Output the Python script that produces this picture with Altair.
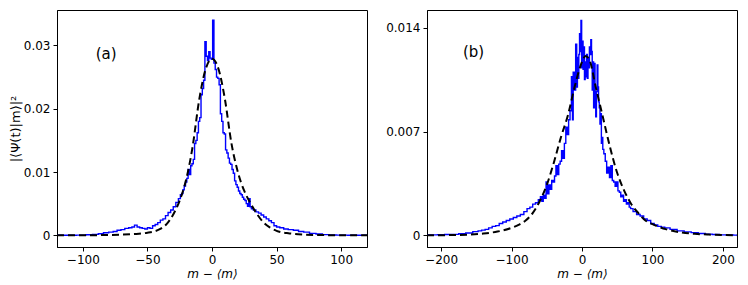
import altair as alt
import pandas as pd

# ---------------- Panel (a) ----------------
a_blue_m = [-120, -110, -100, -95, -90, -86, -82, -78, -75, -72,
            -69, -66, -63, -61, -59, -57, -55, -53, -51, -49,
            -47, -45, -43, -41, -39, -37, -35, -33, -31, -29,
            -27, -25, -24, -23, -22, -21, -20, -19, -18, -17,
            -16, -15, -14, -13, -12, -11, -10, -9, -8, -7,
            -6, -5, -4, -3, -2, -1, 0, 1, 2, 3,
            4, 5, 6, 7, 8, 9, 10, 11, 12, 13,
            14, 15, 16, 17, 18, 19, 20, 21, 22, 23,
            24, 25, 26, 27, 28, 29, 30, 31, 33, 35,
            37, 39, 41, 43, 45, 47, 49, 51, 54, 57,
            61, 65, 69, 73, 78, 83, 88, 93, 100, 110,
            120]
a_blue_p = [0, 0, 0.00003, 0.00008, 0.00015, 0.00025, 0.0004, 0.0005, 0.0006, 0.0008,
            0.0009, 0.0011, 0.0012, 0.0013, 0.0016, 0.0013, 0.0012, 0.0011, 0.0010, 0.0012,
            0.0011, 0.0015, 0.0017, 0.0020, 0.0024, 0.0026, 0.0031, 0.0036, 0.0040, 0.0045,
            0.0052, 0.0058, 0.0064, 0.0066, 0.0072, 0.0078, 0.0084, 0.0090, 0.0104, 0.0096,
            0.0110, 0.0113, 0.0120, 0.0145, 0.0150, 0.0162, 0.0180, 0.0186, 0.0222, 0.0232,
            0.0245, 0.0306, 0.0283, 0.0276, 0.0290, 0.0280, 0.0278, 0.0340, 0.0272, 0.0262,
            0.0250, 0.0248, 0.0238, 0.0192, 0.0180, 0.0162, 0.0160, 0.0135, 0.0130, 0.0122,
            0.0114, 0.0112, 0.0104, 0.0098, 0.0086, 0.0080, 0.0076, 0.0070, 0.0066, 0.0064,
            0.0060, 0.0057, 0.0055, 0.0050, 0.0046, 0.0058, 0.0045, 0.0042, 0.0040, 0.0037,
            0.0035, 0.0032, 0.0029, 0.0026, 0.0023, 0.0020, 0.0015, 0.0013, 0.0012, 0.0010,
            0.0009, 0.0008, 0.0006, 0.0005, 0.0003, 0.0002, 0.0001, 0.00005, 0.00002, 0,
            0]

a_fit_m = [-120, -100, -90, -80, -70, -60, -50, -45, -40, -35,
           -30, -25, -20, -15, -10, -5, 0, 5, 10, 15,
           20, 25, 30, 35, 40, 45, 50, 60, 70, 80,
           90, 100, 120]
a_fit_p = [0, 0.00001, 0.00002, 0.00005, 0.0001, 0.0002, 0.0004, 0.0006, 0.0010, 0.0018,
           0.0033, 0.0055, 0.0088, 0.0140, 0.0213, 0.0262, 0.0279, 0.0263, 0.0215, 0.0146,
           0.0100, 0.0070, 0.0050, 0.0033, 0.0020, 0.0012, 0.0007, 0.0003, 0.00012, 0.00005,
           0.00002, 0.00001, 0]

# ---------------- Panel (b) ----------------
b_blue_m = [-220, -210, -200, -190, -180, -170, -160, -150, -145, -140,
            -135, -130, -125, -120, -115, -110, -105, -100, -95, -90,
            -85, -80, -76, -72, -68, -64, -60, -58, -56, -54,
            -52, -50, -48, -46, -44, -42, -40, -38, -36, -34,
            -32, -30, -28, -26, -24, -22, -20, -18, -16, -14,
            -13, -12, -10, -8, -7, -6, -5, -4, -3, -2,
            -1, 0, 1, 2, 3, 4, 5, 6, 7, 8,
            9, 10, 11, 12, 13, 14, 15, 16, 17, 18,
            19, 20, 21, 22, 23, 24, 25, 26, 27, 28,
            29, 30, 32, 34, 36, 38, 40, 42, 44, 46,
            48, 50, 52, 54, 56, 58, 60, 62, 64, 66,
            68, 70, 75, 80, 85, 90, 95, 100, 105, 110,
            115, 120, 130, 140, 150, 160, 170, 180, 190, 200,
            210, 220]
b_blue_p = [0.00002, 0.00003, 0.00004, 0.00005, 0.00006, 0.0001, 0.00015, 0.00025, 0.0003, 0.00035,
            0.0004, 0.0005, 0.0006, 0.00065, 0.0008, 0.0009, 0.0010, 0.0011, 0.0012, 0.0013,
            0.0014, 0.0016, 0.0018, 0.0019, 0.0021, 0.0022, 0.0024, 0.0026, 0.0023, 0.0027,
            0.0025, 0.0036, 0.0028, 0.0034, 0.0031, 0.0037, 0.0036, 0.0040, 0.0047, 0.0041,
            0.0048, 0.0050, 0.0057, 0.0052, 0.0062, 0.0073, 0.0068, 0.0078, 0.0084, 0.0107,
            0.0078, 0.0110, 0.0098, 0.0129, 0.0100, 0.0120, 0.0106, 0.0122, 0.0136, 0.0124,
            0.0145, 0.0113, 0.0131, 0.0112, 0.0127, 0.0105, 0.0117, 0.0107, 0.0122, 0.0106,
            0.0120, 0.0113, 0.0127, 0.0122, 0.0132, 0.0124, 0.0098, 0.0117, 0.0086, 0.0116,
            0.0092, 0.0080, 0.0097, 0.0115, 0.0100, 0.0090, 0.0086, 0.0075, 0.0082, 0.0062,
            0.0066, 0.0058, 0.0055, 0.0050, 0.0042, 0.0046, 0.0039, 0.0047, 0.0037, 0.0036,
            0.0033, 0.0036, 0.0030, 0.0029, 0.0026, 0.0027, 0.0023, 0.0024, 0.0021, 0.0022,
            0.0019, 0.0018, 0.0016, 0.0014, 0.0013, 0.0011, 0.0010, 0.0008, 0.0007, 0.0006,
            0.00055, 0.0005, 0.0004, 0.0003, 0.00023, 0.00018, 0.00012, 0.00008, 0.00005, 0.00003,
            0.00002, 0.00001]

b_fit_m = [-220, -180, -160, -140, -120, -100, -90, -80, -70, -60,
           -50, -40, -30, -20, -10, 0, 5, 10, 20, 30,
           40, 50, 60, 70, 80, 90, 100, 110, 120, 140,
           160, 180, 200, 220]
b_fit_p = [0, 0.00002, 0.00005, 0.00012, 0.00025, 0.0005, 0.0007, 0.0010, 0.0015, 0.0023,
           0.0034, 0.0049, 0.0066, 0.0081, 0.0101, 0.0117, 0.0121, 0.0119, 0.0099, 0.0079,
           0.0059, 0.0042, 0.0030, 0.0021, 0.0015, 0.0010, 0.00075, 0.00055, 0.0004, 0.0002,
           0.0001, 0.00005, 0.00002, 0]

a_xticks = [-100, -50, 0, 50, 100]
a_yticks = [0, 0.01, 0.02, 0.03]
b_xticks = [-200, -100, 0, 100, 200]
b_yticks = [0, 0.007, 0.014]

FONT = "DejaVu Sans"


def panel(blue_m, blue_p, fit_m, fit_p, xdom, ydom, xticks, yticks, ndec,
          label, lab_x, lab_y, ytitle):
    blue = pd.DataFrame({"m": blue_m, "p": blue_p})
    fit = pd.DataFrame({"m": fit_m, "p": fit_p})
    xs = alt.Scale(domain=xdom, nice=False, zero=False)
    ys = alt.Scale(domain=ydom, nice=False, zero=False)
    xax = alt.Axis(values=xticks, title="m − ⟨m⟩", grid=False, tickSize=4,
                   labelPadding=3, titlePadding=3, titleFontStyle="italic",
                   titleFontWeight="normal")
    yax_kwargs = dict(values=yticks, grid=False, tickSize=4, labelPadding=3,
                      labelExpr=f"datum.value == 0 ? '0' : format(datum.value, '.{ndec}f')",
                      titleFontWeight="normal")
    if ytitle:
        yax = alt.Axis(title=ytitle, titlePadding=1, titleFontSize=13, **yax_kwargs)
    else:
        yax = alt.Axis(title=None, **yax_kwargs)

    l1 = alt.Chart(blue).mark_line(color="#0000ff", strokeWidth=1.4,
                                   interpolate="step", clip=True).encode(
        x=alt.X("m:Q", scale=xs, axis=xax),
        y=alt.Y("p:Q", scale=ys, axis=yax),
    )
    l2 = alt.Chart(fit).mark_line(color="black", strokeWidth=2, strokeDash=[7, 4],
                                  interpolate="monotone", clip=True).encode(
        x=alt.X("m:Q", scale=xs),
        y=alt.Y("p:Q", scale=ys),
    )
    txt = alt.Chart().mark_text(text=label, font=FONT, fontSize=15, color="black",
                                align="center", baseline="middle").encode(
        x=alt.datum(lab_x, scale=xs), y=alt.datum(lab_y, scale=ys)
    )
    return alt.layer(l1, l2, txt).properties(width=310, height=237)


pa = panel(a_blue_m, a_blue_p, a_fit_m, a_fit_p, [-120, 120], [-0.00185, 0.0356],
           a_xticks, a_yticks, 2, "(a)", -82, 0.0286, "|⟨Ψ(t)|m⟩|²")
pb = panel(b_blue_m, b_blue_p, b_fit_m, b_fit_p, [-220, 220], [-0.00079, 0.0152],
           b_xticks, b_yticks, 3, "(b)", -154, 0.01236, None)

chart = alt.hconcat(pa, pb, spacing=60, bounds="flush").resolve_scale(
    x="independent", y="independent"
).properties(
    padding={"left": 0, "top": 1, "right": 0, "bottom": 0}
).configure_view(
    stroke="black", strokeWidth=1
).configure_axis(
    labelFont=FONT, titleFont=FONT, labelFontSize=12, titleFontSize=12,
    labelColor="black", titleColor="black", tickColor="black",
    domainColor="black", domainWidth=1, tickWidth=1,
)

chart.save("out.html", embed_options={"renderer": "svg", "actions": False})
